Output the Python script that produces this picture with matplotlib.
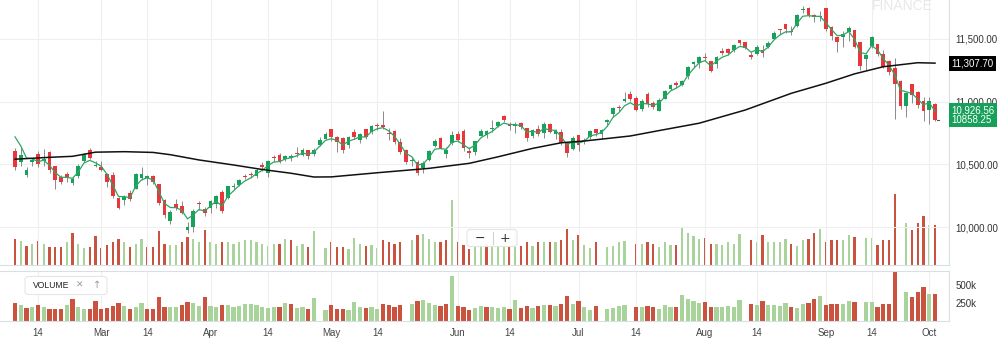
import numpy as np
import pandas as pd
import matplotlib
matplotlib.use('Agg')
import matplotlib.pyplot as plt
import matplotlib.transforms as mtransforms
from matplotlib.patches import FancyBboxPatch

# ---- data (NIFTY daily, Feb 7 - Oct 3 2018) ----
start_date = '2018-02-07'
end_date = '2018-10-03'
holidays = ['2018-02-13', '2018-03-02', '2018-03-29', '2018-03-30', '2018-05-01',
            '2018-08-15', '2018-08-22', '2018-09-13', '2018-09-20', '2018-10-02']

opens = [10607, 10518, 10416, 10518, 10585, 10528, 10596, 10488, 10397, 10426,
         10354, 10409, 10526, 10615, 10488, 10479, 10428, 10420, 10232, 10216,
         10272, 10301, 10390, 10393, 10405, 10345, 10215, 10051, 10186, 10167,
         9978, 10000, 10193, 10143, 10151, 10186, 10282, 10229, 10323, 10334,
         10412, 10428, 10410, 10495, 10432, 10557, 10578, 10544, 10552, 10592,
         10578, 10612, 10586, 10652, 10705, 10783, 10720, 10711, 10653, 10758,
         10694, 10779, 10760, 10815, 10813, 10751, 10770, 10678, 10616, 10527,
         10521, 10469, 10535, 10648, 10710, 10585, 10671, 10739, 10765, 10611,
         10603, 10729, 10737, 10779, 10806, 10888, 10824, 10804, 10830, 10790,
         10728, 10786, 10749, 10822, 10742, 10762, 10671, 10623, 10733, 10687,
         10715, 10786, 10744, 10838, 10902, 10957, 11007, 11064, 11030, 10939,
         11060, 10990, 10930, 11019, 11105, 11148, 11133, 11206, 11297, 11311,
         11359, 11328, 11297, 11401, 11423, 11412, 11493, 11475, 11370, 11380,
         11411, 11437, 11502, 11577, 11620, 11566, 11605, 11731, 11744, 11694,
         11675, 11751, 11598, 11514, 11514, 11558, 11570, 11476, 11340, 11443,
         11464, 11382, 11326, 11271, 11164, 10969, 11145, 11079, 11008, 10931,
         10982]
highs = [10630, 10637, 10480, 10555, 10604, 10620, 10605, 10490, 10420, 10441,
         10398, 10500, 10593, 10633, 10525, 10525, 10432, 10441, 10243, 10255,
         10296, 10431, 10478, 10420, 10420, 10346, 10224, 10135, 10228, 10207,
         10045, 10143, 10207, 10158, 10220, 10256, 10298, 10332, 10351, 10386,
         10424, 10440, 10469, 10519, 10535, 10573, 10594, 10573, 10582, 10638,
         10628, 10612, 10633, 10719, 10759, 10784, 10729, 10722, 10725, 10785,
         10754, 10786, 10812, 10834, 10929, 10790, 10773, 10709, 10621, 10558,
         10533, 10525, 10616, 10706, 10715, 10638, 10763, 10764, 10784, 10637,
         10691, 10779, 10774, 10854, 10850, 10893, 10835, 10839, 10837, 10794,
         10781, 10816, 10837, 10831, 10780, 10784, 10676, 10723, 10736, 10713,
         10777, 10786, 10785, 10860, 10956, 10976, 11078, 11088, 11044, 11019,
         11076, 11006, 11030, 11093, 11144, 11168, 11177, 11284, 11328, 11366,
         11390, 11328, 11368, 11427, 11428, 11459, 11495, 11478, 11396, 11453,
         11449, 11486, 11565, 11581, 11620, 11604, 11700, 11760, 11753, 11698,
         11727, 11751, 11602, 11514, 11562, 11603, 11573, 11479, 11381, 11523,
         11464, 11412, 11332, 11346, 11171, 11080, 11145, 11089, 11034, 11035,
         10989]
lows = [10456, 10489, 10398, 10485, 10480, 10490, 10436, 10304, 10347, 10361,
        10340, 10396, 10520, 10540, 10478, 10447, 10323, 10232, 10142, 10178,
        10211, 10301, 10377, 10336, 10346, 10180, 10075, 10028, 10138, 10105,
        9951, 9959, 10134, 10092, 10111, 10150, 10111, 10222, 10301, 10330,
        10381, 10389, 10395, 10451, 10402, 10522, 10509, 10526, 10528, 10559,
        10569, 10540, 10568, 10647, 10704, 10689, 10601, 10594, 10635, 10704,
        10669, 10705, 10740, 10774, 10781, 10699, 10664, 10586, 10505, 10490,
        10418, 10433, 10526, 10640, 10626, 10550, 10654, 10681, 10605, 10550,
        10573, 10724, 10707, 10758, 10796, 10842, 10773, 10751, 10781, 10689,
        10709, 10724, 10710, 10753, 10701, 10659, 10557, 10612, 10604, 10667,
        10705, 10726, 10701, 10807, 10876, 10923, 10997, 11003, 10926, 10925,
        10956, 10946, 10928, 11019, 11090, 11111, 11127, 11185, 11278, 11267,
        11322, 11234, 11267, 11370, 11370, 11394, 11455, 11419, 11340, 11370,
        11359, 11431, 11499, 11539, 11546, 11532, 11595, 11710, 11679, 11639,
        11640, 11567, 11496, 11394, 11436, 11484, 11427, 11250, 11252, 11430,
        11366, 11268, 11213, 10866, 10943, 10882, 10993, 10953, 10850, 10821,
        10843]
closes = [10476, 10576, 10455, 10539, 10500, 10545, 10452, 10378, 10360, 10397,
          10382, 10491, 10583, 10554, 10493, 10458, 10358, 10249, 10154, 10243,
          10227, 10421, 10427, 10410, 10360, 10195, 10094, 10124, 10155, 10114,
          9998, 10131, 10184, 10114, 10212, 10245, 10128, 10326, 10332, 10379,
          10403, 10418, 10459, 10481, 10528, 10548, 10526, 10565, 10564, 10584,
          10614, 10570, 10617, 10692, 10739, 10718, 10679, 10618, 10715, 10717,
          10741, 10716, 10806, 10807, 10802, 10741, 10682, 10596, 10516, 10536,
          10430, 10513, 10605, 10688, 10633, 10614, 10736, 10696, 10628, 10593,
          10684, 10768, 10767, 10787, 10842, 10856, 10808, 10817, 10799, 10710,
          10772, 10741, 10822, 10762, 10769, 10671, 10589, 10714, 10657, 10699,
          10769, 10749, 10772, 10852, 10947, 10948, 11023, 11018, 10936, 11008,
          10980, 10957, 11010, 11084, 11134, 11132, 11167, 11278, 11319, 11357,
          11346, 11244, 11360, 11387, 11389, 11450, 11470, 11429, 11355, 11435,
          11385, 11470, 11551, 11570, 11582, 11557, 11692, 11738, 11691, 11676,
          11680, 11582, 11520, 11476, 11536, 11589, 11438, 11287, 11369, 11515,
          11377, 11278, 11234, 11143, 10967, 11067, 11053, 10977, 10930, 11008,
          10858.25]
# volume in thousands (0 = no bar drawn)
volumes = [250, 231, 184, 203, 231, 203, 174, 174, 174, 226,
           306, 203, 165, 174, 278, 165, 188, 217, 250, 217,
           174, 203, 254, 174, 170, 330, 203, 193, 193, 226,
           273, 254, 217, 339, 217, 198, 226, 226, 203, 217,
           245, 245, 226, 203, 179, 198, 198, 254, 236, 179,
           203, 174, 325, 0, 160, 226, 174, 174, 155, 264,
           203, 184, 193, 165, 245, 226, 203, 221, 0, 236,
           287, 297, 254, 226, 217, 236, 626, 217, 193, 155,
           179, 217, 203, 203, 184, 203, 170, 297, 184, 217,
           184, 217, 226, 226, 217, 236, 344, 236, 287, 193,
           160, 217, 0, 170, 184, 217, 231, 0, 203, 203,
           217, 203, 170, 226, 193, 193, 367, 311, 278, 250,
           264, 203, 203, 193, 217, 203, 297, 0, 236, 226,
           287, 226, 226, 217, 250, 203, 184, 236, 250, 306,
           344, 226, 245, 236, 236, 287, 273, 0, 264, 264,
           193, 236, 245, 688, 0, 405, 334, 405, 476, 382,
           382]

# long moving average (black), read at a few bars
slow_idx = [0, 6, 10, 14, 19, 24, 27, 32, 38, 43, 48, 52, 55, 63, 72, 79, 84,
            90, 95, 99, 107, 112, 119, 127, 135, 141, 146, 151, 157, 160]
slow_vals = [10542, 10557, 10565, 10598, 10602, 10596, 10578, 10536, 10496, 10460,
             10430, 10400, 10401, 10434, 10469, 10509, 10561, 10628, 10673, 10687,
             10727, 10770, 10829, 10934, 11067, 11147, 11222, 11279, 11311, 11307.7]
fast_start = 10720   # first value of the short average (green)
fast_alpha = 0.5

price_ticks = [10000, 10500, 11000, 11500]
volume_ticks = [250, 500]
volume_tick_labels = ['250k', '500k']
slow_label = '11,307.70'
fast_label = '10,926.56'
fast_last = 10926.56

W, H = 1000, 348
GREEN = '#17a25b'
RED = '#e8363a'
VOL_GREEN = '#a8d49b'
VOL_RED = '#c9533f'
BORDER = '#d9dfe7'
FS = 7


def px_axes(fig, left, top, right, bottom):
    """Add an axes given in pixel coordinates (origin top-left)."""
    return fig.add_axes([left / W, 1 - bottom / H, (right - left) / W, (bottom - top) / H])


def trading_days():
    dates = pd.bdate_range(start_date, end_date)
    dates = dates[~dates.isin(pd.to_datetime(holidays))]
    return dates


def month_ticks(dates):
    pos, labels = [], []
    for month in range(1, 13):
        for day in (1, 14):
            target = pd.Timestamp(2018, month, day)
            if target < dates[0] or target > dates[-1]:
                continue
            pos.append(int(dates.searchsorted(target)))
            labels.append('14' if day == 14 else target.strftime('%b'))
    return pos, labels


def fast_average(values):
    out = [fast_start]
    for v in values[1:]:
        out.append(fast_alpha * v + (1 - fast_alpha) * out[-1])
    return np.array(out)


def main():
    plt.rcParams['font.family'] = ['Liberation Sans', 'DejaVu Sans']

    dates = trading_days()
    n = len(closes)
    idx = np.arange(n)
    o, h, l, c = (np.array(a, dtype=float) for a in (opens, highs, lows, closes))
    vol = np.array(volumes, dtype=float)
    tick_pos, tick_labels = month_ticks(dates[:n])

    up = c >= o
    body_col = np.where(up, GREEN, RED)
    prev = np.concatenate([[o[0]], c[:-1]])
    vol_col = np.where(c > prev, VOL_GREEN, VOL_RED)

    fig = plt.figure(figsize=(W / 100, H / 100), dpi=100)
    fig.patch.set_facecolor('white')

    step = 5.75
    xlim = (-15 / step, (949 - 15) / step)

    # ---- main price panel ----
    ax = px_axes(fig, 0, 0, 949, 265)
    vax = ax.twinx()
    ax.set_zorder(vax.get_zorder() + 1)
    ax.patch.set_visible(False)

    vax.bar(idx, vol, width=0.38, color=vol_col, linewidth=0)
    vax.set_ylim(0, 2550)
    vax.set_yticks([])
    for s in vax.spines.values():
        s.set_visible(False)

    ax.vlines(idx, l, h, color='#8a8a8a', linewidth=0.7, zorder=2)
    body = np.maximum(np.abs(c - o), 7)
    ax.bar(idx, body, bottom=np.minimum(o, c), width=0.64, color=body_col,
           linewidth=0, zorder=3)
    ax.plot(idx, fast_average(c), color='#2fa566', linewidth=0.9, zorder=4)
    ax.plot(slow_idx, slow_vals, color='#111111', linewidth=1.1, zorder=4)
    ax.plot([n - 1 + 0.35, n - 1 + 0.75], [c[-1], c[-1]], color='#555555',
            linewidth=0.8, zorder=4)

    ax.set_xlim(*xlim)
    ax.set_ylim(11500 - 226 * 7.97, 11500 + 39 * 7.97)
    ax.set_xticks(tick_pos)
    ax.set_yticks(price_ticks)
    ax.set_yticklabels([f'{t:,.2f}' for t in price_ticks])
    ax.yaxis.tick_right()
    ax.tick_params(axis='y', length=0, pad=4.5, labelsize=FS, labelcolor='#333333')
    ax.tick_params(axis='x', length=0, labelbottom=False)
    ax.grid(True, color='#efefef', linewidth=0.8)
    ax.set_axisbelow(True)
    for name, s in ax.spines.items():
        s.set_visible(name in ('right', 'bottom'))
        s.set_color(BORDER)
        s.set_linewidth(0.8)

    # last value boxes
    blend = mtransforms.blended_transform_factory(ax.transAxes, ax.transData)
    ax.annotate(slow_label, xy=(1, slow_vals[-1]), xycoords=blend, xytext=(1.5, 0),
                textcoords='offset points', ha='left', va='center', fontsize=FS,
                color='white', annotation_clip=False, zorder=6,
                bbox=dict(boxstyle='square,pad=0.25', fc='#000000', ec='none'))
    ax.annotate(f'{fast_label}\n{c[-1]:.2f}', xy=(1, (fast_last + c[-1]) / 2),
                xycoords=blend, xytext=(1.5, 0), textcoords='offset points',
                ha='left', va='center', fontsize=FS, color='white',
                linespacing=0.95, annotation_clip=False, zorder=6,
                bbox=dict(boxstyle='square,pad=0.25', fc='#17a05a', ec='none'))

    # ---- volume panel ----
    lax = px_axes(fig, 0, 271, 949, 321)
    lax.bar(idx, vol, width=0.76, color=vol_col, linewidth=0)
    lax.set_xlim(*xlim)
    lax.set_ylim(0, 700)
    lax.set_xticks(tick_pos)
    lax.set_xticklabels(tick_labels)
    lax.set_yticks(volume_ticks)
    lax.set_yticklabels(volume_tick_labels)
    lax.yaxis.tick_right()
    lax.tick_params(axis='y', length=0, pad=4.5, labelsize=FS, labelcolor='#333333')
    lax.tick_params(axis='x', length=0, pad=5, labelsize=FS, labelcolor='#444444')
    lax.grid(True, axis='x', color='#efefef', linewidth=0.8)
    lax.set_axisbelow(True)
    for name, s in lax.spines.items():
        s.set_visible(name != 'left')
        s.set_color(BORDER)
        s.set_linewidth(0.8)

    # ---- chart chrome (pixel coordinates) ----
    ui = fig.add_axes([0, 0, 1, 1])
    ui.set_xlim(0, W)
    ui.set_ylim(H, 0)
    ui.axis('off')
    ui.set_zorder(10)

    ui.text(872, 10.5, 'FINANCE', fontsize=10, color='#e8e8e8', va='baseline', ha='left')

    ui.add_patch(FancyBboxPatch((467, 229.5), 50, 17, boxstyle='round,pad=0,rounding_size=3',
                                fc='white', ec='#e4e4e4', lw=0.8, alpha=0.95))
    ui.text(479.5, 238, '\u2212', fontsize=9, color='#333333', ha='center', va='center',
            family='DejaVu Sans')
    ui.plot([492.5, 492.5], [232, 244], color='#d0d0d0', lw=0.8)
    ui.text(504.5, 238, '+', fontsize=9, color='#333333', ha='center', va='center',
            family='DejaVu Sans')

    ui.add_patch(FancyBboxPatch((25, 276.5), 82, 18, boxstyle='round,pad=0,rounding_size=3',
                                fc='white', ec='#e6e6e6', lw=0.8))
    ui.text(32.5, 285.5, 'VOLUME', fontsize=6.2, color='#222222', ha='left', va='center')
    ui.text(80, 285.5, '\u2715', fontsize=6.5, color='#9a9a9a', ha='center', va='center',
            family='DejaVu Sans')
    ui.text(97.5, 285.5, '\u2191', fontsize=7, color='#9a9a9a', ha='center', va='center',
            family='DejaVu Sans')

    fig.savefig('out.png', dpi=100, facecolor='white')
    plt.close(fig)


if __name__ == '__main__':
    main()
